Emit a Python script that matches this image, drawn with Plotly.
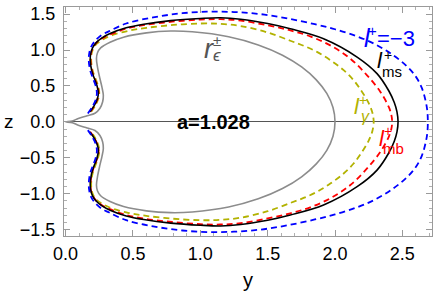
import plotly.graph_objects as go

# ---- data (upper half, z >= 0; lower half is its mirror) ----
gray_y = [0.0, 0.05, 0.094, 0.16, 0.218, 0.255, 0.275, 0.28, 0.27, 0.255, 0.238, 0.229, 0.236, 0.26,
          0.33, 0.43, 0.6, 0.78, 0.94, 1.21, 1.43, 1.61, 1.752, 1.861, 1.939, 1.985, 2.0]
gray_z = [0.0, 0.012, 0.047, 0.085, 0.12, 0.19, 0.28, 0.37, 0.48, 0.6, 0.75, 0.88, 0.96, 1.03,
          1.11, 1.18, 1.24, 1.265, 1.255, 1.186, 1.072, 0.929, 0.765, 0.585, 0.396, 0.2, 0.0]

ms_y = [0.18, 0.21, 0.235, 0.243, 0.232, 0.21, 0.193, 0.183, 0.186, 0.2, 0.225, 0.27, 0.33, 0.45,
        0.58, 0.78, 1.0, 1.15, 1.3, 1.5, 1.668, 1.915, 2.164, 2.312, 2.40, 2.44, 2.46, 2.468]
ms_z = [0.14, 0.22, 0.32, 0.40, 0.51, 0.62, 0.72, 0.85, 0.95, 1.03, 1.1, 1.17, 1.23, 1.31,
        1.36, 1.41, 1.44, 1.45, 1.43, 1.37, 1.297, 1.158, 0.903, 0.672, 0.43, 0.27, 0.14, 0.0]

mb_y = [0.182, 0.212, 0.237, 0.245, 0.234, 0.212, 0.195, 0.185, 0.188, 0.202, 0.228, 0.273, 0.335,
        0.455, 0.59, 0.79, 1.0, 1.15, 1.3, 1.5, 1.668, 1.816, 1.965, 2.114, 2.238, 2.337, 2.399,
        2.418, 2.424]
mb_z = [0.14, 0.22, 0.32, 0.40, 0.51, 0.62, 0.72, 0.85, 0.95, 1.03, 1.1, 1.165, 1.22,
        1.30, 1.35, 1.395, 1.425, 1.43, 1.41, 1.345, 1.274, 1.19, 1.065, 0.88, 0.648, 0.417, 0.208,
        0.1, 0.0]

gam_y = [0.19, 0.218, 0.242, 0.25, 0.24, 0.218, 0.2, 0.19, 0.193, 0.207, 0.232, 0.28, 0.35, 0.47,
         0.6, 0.8, 1.0, 1.15, 1.3, 1.5, 1.668, 1.767, 1.866, 1.965, 2.064, 2.138, 2.2, 2.25, 2.277,
         2.287]
gam_z = [0.14, 0.22, 0.32, 0.40, 0.51, 0.62, 0.72, 0.85, 0.95, 1.03, 1.09, 1.15, 1.21, 1.27,
         1.31, 1.35, 1.37, 1.365, 1.335, 1.245, 1.13, 1.06, 0.975, 0.86, 0.72, 0.58, 0.42, 0.26, 0.13,
         0.0]

l3_y = [0.165, 0.195, 0.222, 0.232, 0.222, 0.2, 0.182, 0.172, 0.175, 0.188, 0.215, 0.26, 0.32, 0.45,
        0.65, 0.85, 1.05, 1.25, 1.45, 1.65, 1.85, 2.0, 2.164, 2.30, 2.43, 2.53, 2.60, 2.645, 2.674,
        2.686, 2.689]
l3_z = [0.115, 0.2, 0.3, 0.40, 0.51, 0.62, 0.72, 0.85, 0.95, 1.04, 1.12, 1.2, 1.26, 1.37,
        1.455, 1.51, 1.535, 1.53, 1.5, 1.44, 1.36, 1.29, 1.19, 1.08, 0.93, 0.78, 0.63, 0.47, 0.28,
        0.14, 0.0]

x_ticks = [0.0, 0.5, 1.0, 1.5, 2.0, 2.5]
z_ticks = [-1.5, -1.0, -0.5, 0.0, 0.5, 1.0, 1.5]
spin_label = "a=1.028"


def full(ys, zs):
    """upper branch followed by its mirror image (lower branch)"""
    return ys + ys[-2::-1], zs + [-v for v in zs[-2::-1]]


W, H = 436, 296
ML, MR, MT, MB = 64, 4, 7, 60


def P(px, py):
    return (px - ML) / (W - ML - MR), (H - MB - py) / (H - MT - MB)


fig = go.Figure()
styles = [
    (gray_y, gray_z, "#8c8c8c", None, 1.6),
    (gam_y, gam_z, "#b2b200", "6px,4px", 1.8),
    (mb_y, mb_z, "#ff0000", "6px,4px", 1.8),
    (ms_y, ms_z, "#000000", None, 1.6),
    (l3_y, l3_z, "#0000ff", "6px,4px", 1.8),
]
for ys, zs, col, dash, w in styles:
    fy, fz = full(ys, zs)
    line = dict(color=col, width=w, shape="spline", smoothing=1.0)
    if dash:
        line["dash"] = dash
    fig.add_trace(go.Scatter(x=fy, y=fz, mode="lines", line=line,
                             hoverinfo="skip", showlegend=False))

ann = []


def label(text, px, py, size, color, family="Liberation Sans"):
    x, y = P(px, py)
    ann.append(dict(text=text, x=x, y=y, xref="paper", yref="paper", showarrow=False,
                    xanchor="center", yanchor="middle",
                    font=dict(size=size, color=color, family=family)))


# r_eps^±
label("<i>r</i>", 209, 49, 27, "#555555")
label("±", 216.5, 40.5, 15, "#555555")
label("<i>ϵ</i>", 216.5, 55, 17, "#555555")
# l^+ = -3
label("<i>l</i>", 367.5, 38, 25, "#0000ff")
label("+", 372, 30, 15, "#0000ff")
label("=−3", 396, 38.5, 22, "#0000ff")
# l_ms^+
label("<i>l</i>", 380, 60, 22, "#000000")
label("+", 387.5, 55, 14, "#000000")
label("ms", 391.5, 71, 15, "#000000")
# l_gamma^+
label("<i>l</i>", 357, 106, 22, "#b2b200")
label("+", 363, 100, 14, "#b2b200")
label("<i>γ</i>", 365.5, 116, 16, "#b2b200")
# l_mb^+
label("<i>l</i>", 382, 138, 22, "#ff0000")
label("+", 388, 131, 14, "#ff0000")
label("mb", 393.5, 148, 15, "#ff0000")
# spin
label("<b>" + spin_label + "</b>", 213.5, 122, 20, "#000000")
# axis titles
label("z", 9, 122, 19, "#000000")
label("y", 248, 280, 20, "#000000")

axis_common = dict(
    showgrid=False, showline=True, linecolor="#9a9a9a", linewidth=1, mirror="allticks",
    ticks="inside", ticklen=6, tickwidth=1, tickcolor="#9a9a9a",
    tickfont=dict(family="Liberation Sans", size=18, color="#000000"),
    tickformat=".1f",
    minor=dict(ticks="inside", ticklen=3, tickcolor="#b0b0b0", dtick=0.1, tick0=0),
)

fig.update_layout(
    width=W, height=H,
    margin=dict(l=ML, r=MR, t=MT, b=MB),
    paper_bgcolor="white", plot_bgcolor="white",
    annotations=ann,
    xaxis=dict(range=[-0.012, 2.72], tickmode="array", tickvals=x_ticks,
               zeroline=False, ticklabelstandoff=1, **axis_common),
    yaxis=dict(range=[-1.59, 1.6], tickmode="array", tickvals=z_ticks,
               zeroline=True, zerolinecolor="#555555", zerolinewidth=1.2,
               ticklabelstandoff=4, **axis_common),
)

fig.write_html(
    "out.html",
    config={"displayModeBar": False},
    post_script="document.body.style.margin='0';document.body.style.padding='0';"
                "document.documentElement.style.overflow='hidden';",
)
